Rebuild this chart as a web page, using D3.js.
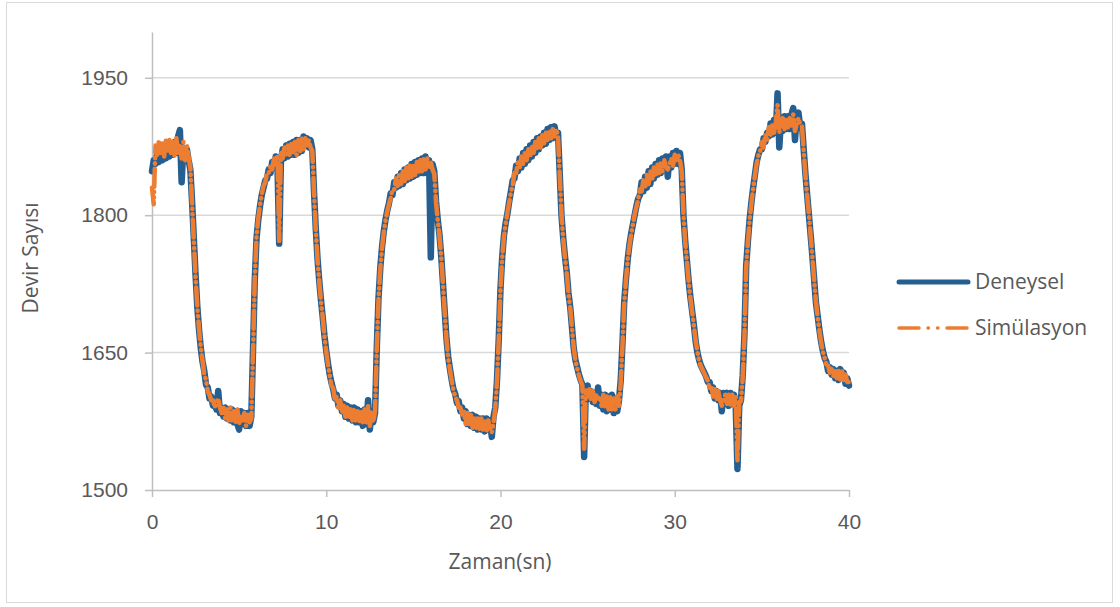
<!DOCTYPE html>
<html lang="tr">
<head>
<meta charset="UTF-8">
<title>Devir Sayısı</title>
<script src="https://d3js.org/d3.v7.min.js"></script>
<style>
  body { margin: 0; background: #fff; }
  svg { font-family: "Open Sans", sans-serif; display: block; }
  .grid line { stroke: #d9d9d9; stroke-width: 1.5; }
  .axis path, .axis line { stroke: #bfbfbf; stroke-width: 1.5; }
  .axis text { fill: #595959; font-size: 21px; }
  .title { fill: #595959; font-size: 21px; }
  .legend text { fill: #595959; font-size: 21px; }
</style>
</head>
<body>
<svg id="chart" width="1120" height="607"></svg>
<script>
// samples every 0.1 s, 0 .. 40 s
const sampleStep = 0.1;

const deneysel = [
  1848, 1860, 1856, 1868, 1858, 1870, 1860, 1872, 1862, 1874,
  1864, 1876, 1866, 1880, 1868, 1886, 1893, 1836, 1874, 1862,
  1872, 1860, 1850, 1815, 1775, 1735, 1700, 1675, 1655, 1640,
  1630, 1615, 1612, 1600, 1602, 1592, 1596, 1588, 1608, 1584,
  1590, 1580, 1590, 1578, 1588, 1576, 1588, 1574, 1586, 1572,
  1566, 1586, 1572, 1584, 1570, 1584, 1570, 1580, 1655, 1730,
  1775, 1795, 1810, 1822, 1830, 1838, 1840, 1850, 1846, 1858,
  1852, 1864, 1856, 1769, 1860, 1872, 1862, 1876, 1864, 1878,
  1866, 1880, 1866, 1882, 1868, 1882, 1870, 1886, 1878, 1884,
  1874, 1882, 1872, 1825, 1785, 1752, 1728, 1707, 1688, 1668,
  1652, 1638, 1626, 1617, 1610, 1600, 1604, 1592, 1598, 1586,
  1594, 1580, 1592, 1578, 1590, 1576, 1590, 1574, 1588, 1574,
  1586, 1570, 1588, 1572, 1598, 1566, 1586, 1574, 1584, 1655,
  1710, 1742, 1765, 1782, 1795, 1805, 1813, 1824, 1822, 1836,
  1830, 1842, 1832, 1846, 1834, 1850, 1838, 1852, 1840, 1856,
  1842, 1858, 1844, 1860, 1846, 1862, 1846, 1864, 1850, 1860,
  1754, 1856, 1848, 1815, 1795, 1778, 1755, 1725, 1695, 1665,
  1645, 1632, 1620, 1610, 1605, 1595, 1597, 1586, 1590, 1578,
  1586, 1572, 1582, 1570, 1582, 1568, 1580, 1566, 1578, 1566,
  1578, 1564, 1578, 1566, 1576, 1558, 1580, 1590, 1620, 1665,
  1720, 1755, 1778, 1792, 1802, 1815, 1826, 1838, 1840, 1854,
  1848, 1862, 1852, 1868, 1856, 1872, 1860, 1876, 1864, 1880,
  1868, 1884, 1872, 1886, 1876, 1890, 1878, 1894, 1882, 1896,
  1884, 1897, 1886, 1890, 1845, 1800, 1775, 1755, 1738, 1715,
  1700, 1678, 1655, 1642, 1634, 1626, 1620, 1615, 1536, 1612,
  1614, 1600, 1608, 1596, 1606, 1594, 1612, 1592, 1604, 1588,
  1604, 1586, 1602, 1588, 1604, 1584, 1600, 1586, 1598, 1620,
  1660, 1705, 1730, 1752, 1768, 1780, 1790, 1800, 1810, 1818,
  1822, 1836, 1826, 1842, 1830, 1848, 1834, 1852, 1840, 1856,
  1844, 1860, 1846, 1862, 1850, 1864, 1842, 1864, 1852, 1868,
  1856, 1870, 1856, 1868, 1850, 1800, 1772, 1750, 1728, 1710,
  1695, 1680, 1662, 1650, 1642, 1636, 1632, 1628, 1624, 1618,
  1618, 1608, 1612, 1600, 1608, 1598, 1606, 1586, 1606, 1594,
  1606, 1592, 1606, 1594, 1604, 1590, 1523, 1592, 1598, 1625,
  1670, 1745, 1772, 1796, 1814, 1830, 1844, 1858, 1866, 1872,
  1872, 1884, 1880, 1890, 1886, 1900, 1888, 1904, 1890, 1933,
  1874, 1906, 1892, 1908, 1894, 1908, 1894, 1910, 1917, 1882,
  1908, 1912, 1896, 1900, 1872, 1845, 1822, 1800, 1778, 1755,
  1730, 1705, 1690, 1675, 1662, 1652, 1644, 1640, 1630, 1634,
  1626, 1632, 1622, 1630, 1620, 1632, 1624, 1628, 1616, 1622,
  1614
];

const simulasyon = [
  1830, 1812, 1876, 1866, 1882, 1868, 1880, 1864, 1882, 1868,
  1882, 1866, 1880, 1864, 1884, 1866, 1878, 1862, 1880, 1860,
  1876, 1864, 1852, 1812, 1772, 1733, 1700, 1676, 1656, 1641,
  1626, 1620, 1608, 1604, 1598, 1598, 1590, 1596, 1600, 1590,
  1584, 1590, 1578, 1588, 1576, 1590, 1576, 1586, 1574, 1588,
  1572, 1582, 1576, 1584, 1570, 1582, 1574, 1578, 1652, 1732,
  1777, 1797, 1811, 1823, 1832, 1836, 1846, 1846, 1854, 1850,
  1862, 1856, 1866, 1772, 1870, 1862, 1874, 1864, 1876, 1866,
  1878, 1868, 1880, 1866, 1882, 1870, 1884, 1872, 1884, 1876,
  1882, 1874, 1870, 1824, 1784, 1751, 1727, 1706, 1688, 1667,
  1651, 1637, 1625, 1614, 1611, 1598, 1602, 1590, 1598, 1584,
  1592, 1580, 1590, 1578, 1588, 1576, 1588, 1576, 1586, 1574,
  1586, 1574, 1588, 1574, 1592, 1570, 1586, 1574, 1586, 1654,
  1708, 1741, 1764, 1781, 1794, 1804, 1812, 1819, 1828, 1828,
  1840, 1832, 1846, 1834, 1848, 1836, 1852, 1838, 1854, 1842,
  1856, 1844, 1858, 1846, 1860, 1848, 1862, 1850, 1862, 1852,
  1858, 1850, 1845, 1814, 1794, 1777, 1754, 1724, 1694, 1664,
  1644, 1631, 1619, 1609, 1602, 1598, 1590, 1590, 1582, 1586,
  1572, 1584, 1570, 1582, 1568, 1580, 1568, 1578, 1566, 1578,
  1566, 1576, 1564, 1576, 1566, 1563, 1573, 1589, 1619, 1664,
  1719, 1754, 1777, 1791, 1803, 1814, 1825, 1833, 1846, 1846,
  1860, 1852, 1864, 1856, 1868, 1860, 1872, 1864, 1876, 1868,
  1880, 1872, 1884, 1874, 1888, 1878, 1890, 1882, 1892, 1884,
  1894, 1886, 1894, 1886, 1843, 1801, 1774, 1754, 1737, 1714,
  1699, 1677, 1656, 1641, 1633, 1625, 1619, 1614, 1545, 1610,
  1602, 1610, 1598, 1608, 1596, 1604, 1600, 1602, 1592, 1604,
  1590, 1602, 1588, 1602, 1588, 1600, 1588, 1602, 1592, 1618,
  1658, 1703, 1729, 1751, 1767, 1779, 1790, 1801, 1809, 1817,
  1830, 1826, 1838, 1830, 1844, 1834, 1848, 1838, 1852, 1842,
  1856, 1846, 1858, 1848, 1860, 1852, 1850, 1856, 1862, 1854,
  1866, 1858, 1866, 1860, 1848, 1801, 1771, 1749, 1727, 1709,
  1694, 1679, 1663, 1651, 1641, 1635, 1631, 1627, 1623, 1619,
  1610, 1614, 1602, 1610, 1598, 1608, 1598, 1592, 1598, 1604,
  1594, 1604, 1592, 1604, 1592, 1602, 1530, 1596, 1597, 1623,
  1668, 1743, 1771, 1795, 1813, 1829, 1843, 1856, 1865, 1870,
  1880, 1874, 1888, 1882, 1896, 1888, 1900, 1890, 1902, 1920,
  1890, 1898, 1906, 1894, 1906, 1896, 1906, 1898, 1910, 1892,
  1900, 1906, 1899, 1897, 1870, 1844, 1821, 1801, 1777, 1754,
  1729, 1706, 1689, 1674, 1661, 1651, 1644, 1637, 1636, 1628,
  1632, 1624, 1630, 1622, 1630, 1620, 1630, 1620, 1626, 1618,
  1618
];

const xTicks = [0, 10, 20, 30, 40];
const yTicks = [1500, 1650, 1800, 1950];
const seriesNames = ["Deneysel", "Simülasyon"];

const svg = d3.select("#chart");
const margin = { left: 152, right: 271, top: 32, bottom: 117 };
const width = 1120, height = 607;

// chart border
svg.append("rect")
  .attr("x", 6.5).attr("y", 2.5)
  .attr("width", 1106).attr("height", 600)
  .attr("fill", "#fff")
  .attr("stroke", "#d9d9d9");

const x = d3.scaleLinear().domain([0, 40]).range([margin.left, width - margin.right]);
const y = d3.scaleLinear().domain([1500, 2000]).range([height - margin.bottom, margin.top]);

// horizontal gridlines
svg.append("g").attr("class", "grid")
  .selectAll("line")
  .data(yTicks.slice(1))
  .join("line")
  .attr("x1", x(0)).attr("x2", x(40))
  .attr("y1", d => y(d)).attr("y2", d => y(d));

// axes
svg.append("g")
  .attr("class", "axis")
  .attr("transform", `translate(${x(0)},0)`)
  .call(d3.axisLeft(y).tickValues(yTicks).tickSize(7).tickSizeOuter(0).tickPadding(17).tickFormat(d3.format("d")));

svg.append("g")
  .attr("class", "axis")
  .attr("transform", `translate(0,${y(1500)})`)
  .call(d3.axisBottom(x).tickValues(xTicks).tickSize(7).tickSizeOuter(0).tickPadding(17).tickFormat(d3.format("d")));

// axis titles
svg.append("text")
  .attr("class", "title")
  .attr("text-anchor", "middle")
  .attr("transform", "translate(38,258) rotate(-90)")
  .text("Devir Sayısı");

svg.append("text")
  .attr("class", "title")
  .attr("text-anchor", "middle")
  .attr("x", 500).attr("y", 569)
  .text("Zaman(sn)");

const line = d3.line()
  .x((d, i) => x(i * sampleStep))
  .y(d => y(d));

const blue = "#255e91", orange = "#ed7d31";
const dashDot = "18,5,0.5,5,0.5,5";

// series
svg.append("path")
  .datum(deneysel)
  .attr("d", line)
  .attr("fill", "none")
  .attr("stroke", blue)
  .attr("stroke-width", 6.5)
  .attr("stroke-linejoin", "round")
  .attr("stroke-linecap", "round");

svg.append("path")
  .datum(simulasyon)
  .attr("d", line)
  .attr("fill", "none")
  .attr("stroke", orange)
  .attr("stroke-width", 4.5)
  .attr("stroke-linejoin", "round")
  .attr("stroke-linecap", "round")
  .attr("stroke-dasharray", dashDot);

// legend
const legend = svg.append("g").attr("class", "legend");
const legendStyles = [
  { color: blue, width: 5, dash: null },
  { color: orange, width: 3.5, dash: "20,9,0.5,9,0.5,9" }
];
seriesNames.forEach((name, i) => {
  const ly = 282 + i * 46;
  legend.append("line")
    .attr("x1", 899).attr("x2", 968)
    .attr("y1", ly).attr("y2", ly)
    .attr("stroke", legendStyles[i].color)
    .attr("stroke-width", legendStyles[i].width)
    .attr("stroke-linecap", "round")
    .attr("stroke-dasharray", legendStyles[i].dash);
  legend.append("text")
    .attr("x", 975).attr("y", ly)
    .attr("dy", "0.35em")
    .text(name);
});
</script>
</body>
</html>
